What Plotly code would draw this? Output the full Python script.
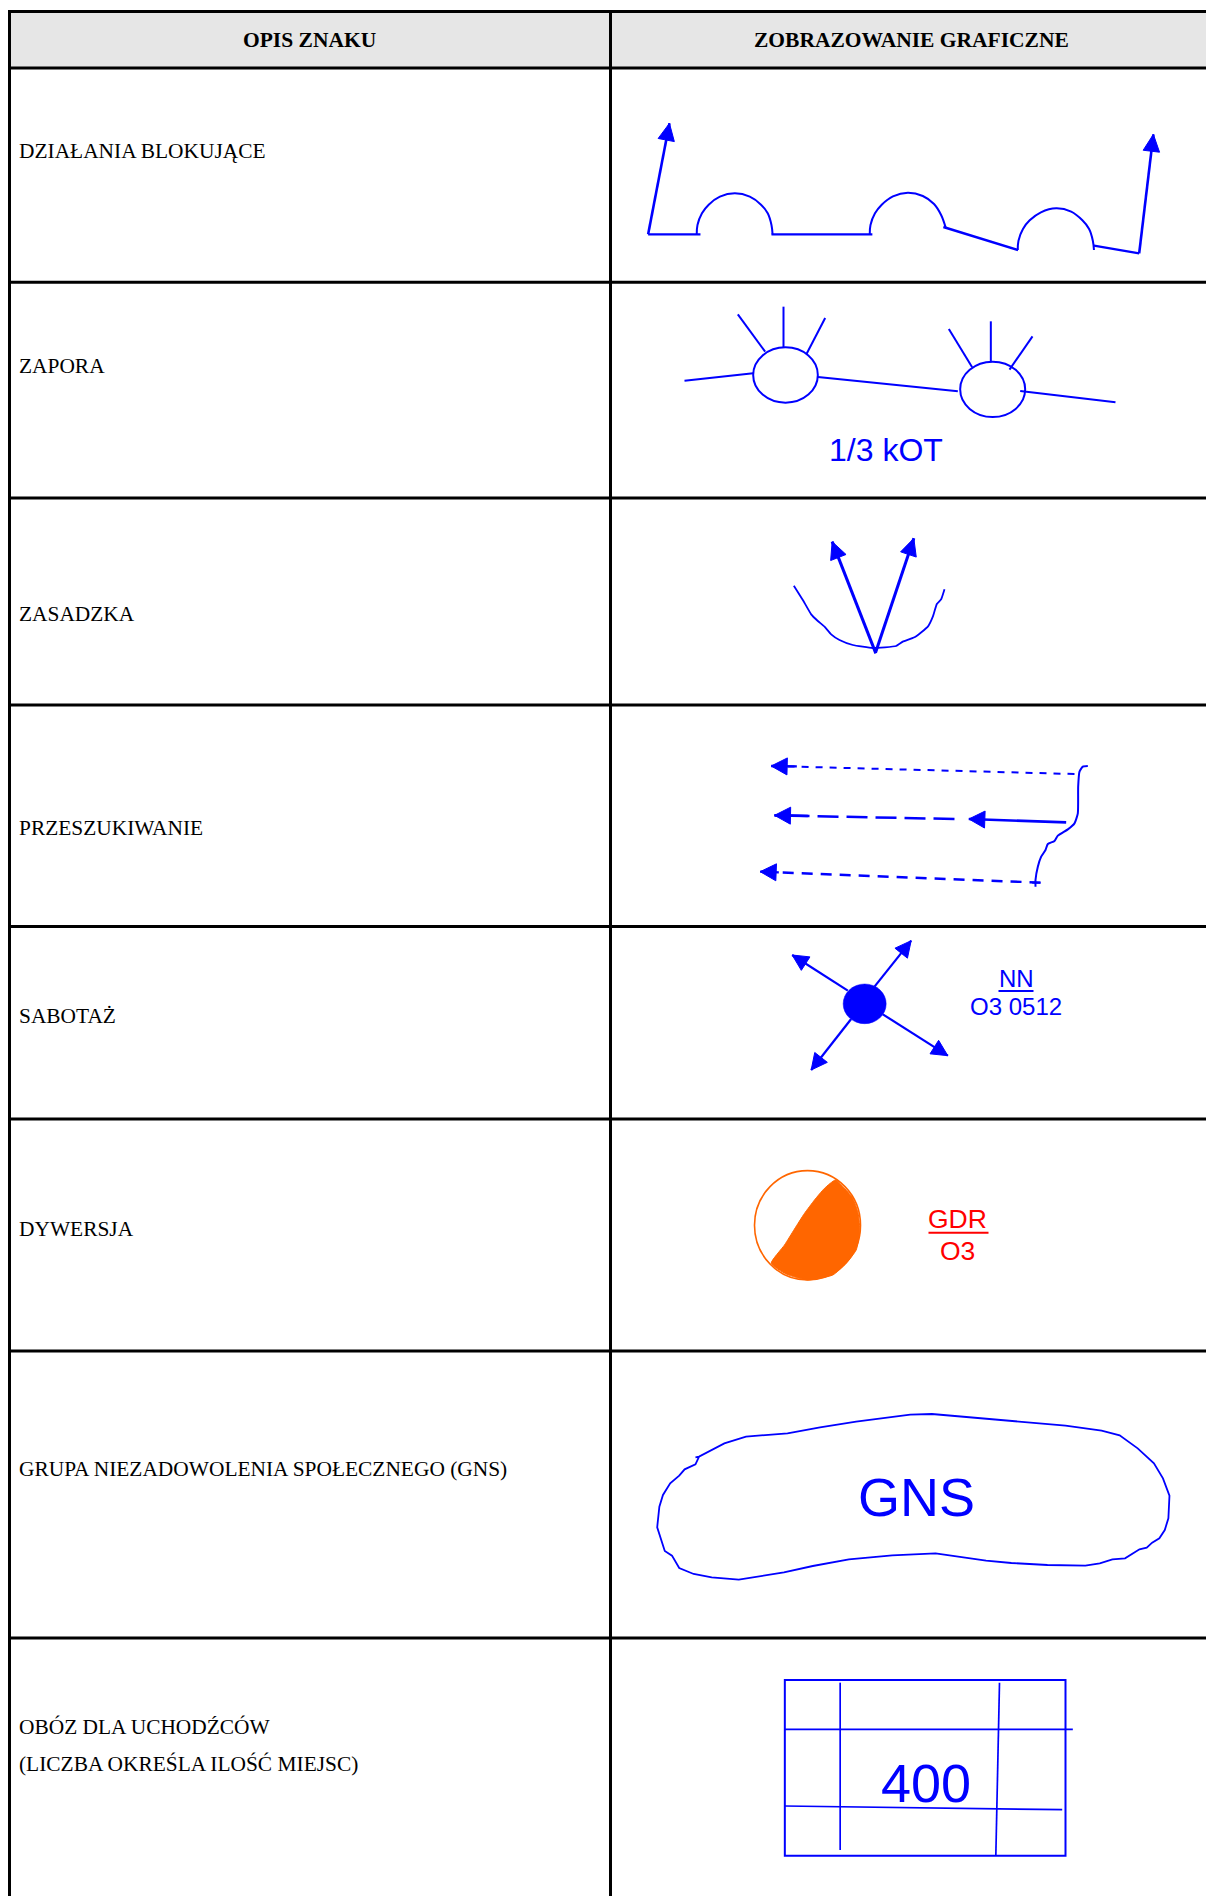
import math
import plotly.graph_objects as go

BLUE = "#0000ff"
ORANGE = "#ff6600"
RED = "#ff0000"
W, H = 1206, 1896

# ---------- table content ----------
HEADERS = ["OPIS ZNAKU", "ZOBRAZOWANIE GRAFICZNE"]
ROW_LABELS = ["DZIAŁANIA BLOKUJĄCE", "ZAPORA", "ZASADZKA", "PRZESZUKIWANIE", "SABOTAŻ", "DYWERSJA",
              "GRUPA NIEZADOWOLENIA SPOŁECZNEGO (GNS)", "OBÓZ DLA UCHODŹCÓW", "(LICZBA OKREŚLA ILOŚĆ MIEJSC)"]
ROW_LABEL_Y = [151, 366, 614, 828, 1016, 1229, 1469, 1726.5, 1764]
ROW_LINES_Y = [11.5, 68, 282.3, 498, 705, 926.5, 1119, 1351, 1638]
COL_LINES_X = [9.5, 610.5]


def z(pts, ox, oy, sx=3.0, sy=3.0):
    """Readings taken on a zoomed crop, brought back to page pixels."""
    return [(ox + a / sx, oy + b / sy) for a, b in pts]


# ---------- DZIAŁANIA BLOKUJĄCE ----------
B = dict(ox=619, oy=90, sx=2.676, sy=3)
block_lines = [[(78, 433), (218, 433)], [(408, 433), (678, 433)], [(868, 411), (1068, 480)], [(1271, 467), (1392, 490)]]
block_arcs = [
    [(208, 433), (210, 405), (222, 370), (240, 344), (270, 320), (310, 310), (350, 320), (380, 344), (398, 370), (408, 405), (411, 433)],
    [(671, 433), (673, 405), (685, 370), (703, 344), (733, 319), (773, 308), (813, 318), (843, 342), (862, 375), (874, 412)],
    [(1067, 480), (1069, 452), (1081, 417), (1099, 391), (1129, 367), (1170, 355), (1210, 365), (1240, 391), (1258, 417), (1268, 452), (1271, 480)],
]
block_arrows = [[(78, 433), (135, 100)], [(1392, 490), (1430, 133)]]

# ---------- ZAPORA ----------
Zp = dict(ox=649.5, oy=290)
zap_lines = [[(105, 272), (311, 250)], [(505, 261), (925, 304)], [(1112, 303), (1398, 337)],
             [(265, 73), (347, 185)], [(402, 50), (402, 172)], [(527, 84), (471, 192)],
             [(898, 117), (968, 232)], [(1024, 94), (1024, 215)], [(1149, 139), (1080, 239)]]
zap_ovals = [(311, 172, 505, 338), (932, 215, 1127, 381)]

# ---------- ZASADZKA ----------
Zs = dict(ox=759.5, oy=520)
zas_curve = [(103, 197), (130, 240), (155, 283), (175, 303), (195, 320), (215, 343), (240, 360), (280, 375), (340, 384),
             (410, 378), (430, 365), (465, 352), (505, 320), (520, 290), (532, 252), (545, 238), (555, 208)]
zas_arrows = [[(349, 400), (218, 65)], [(349, 395), (463, 55)]]

# ---------- PRZESZUKIWANIE ----------
P = dict(ox=739.5, oy=740)
prz_curve = [(1045, 78), (1030, 80), (1020, 95), (1016, 140), (1015, 220), (1005, 250), (985, 268), (955, 287), (945, 303),
             (925, 312), (918, 330), (905, 350), (895, 380), (888, 420), (888, 440)]
prz_top_dash = [(95, 78), (1005, 102)]
prz_mid_dash = [(105, 226), (645, 237)]
prz_mid_solid = [(980, 247), (688, 237)]
prz_low_dash = [(903, 428), (62, 395)]

# ---------- SABOTAŻ ----------
S = dict(ox=769.5, oy=920)
sab_dot = (221, 192, 350, 311)
sab_arrows = [[(235, 212), (68, 105)], [(315, 200), (425, 62)], [(245, 297), (125, 450)], [(340, 283), (535, 407)]]

# ---------- DYWERSJA ----------
D = dict(ox=729.5, oy=1150)
dyw_circle = (75, 62, 393, 390)
dyw_fill = [(318, 90), (285, 115), (255, 150), (225, 190), (195, 237), (165, 285), (125, 340), (170, 372), (235, 390),
            (310, 375), (350, 340), (380, 300), (391, 245), (386, 190), (370, 145), (345, 115), (318, 90)]

# ---------- GNS ----------
G = dict(ox=639.5, oy=1390, sx=2.77, sy=3)
gns_outline = [(155, 202), (165, 200), (235, 160), (295, 140), (410, 130), (500, 112), (600, 95), (695, 83), (750, 74),
               (810, 72), (900, 80), (1000, 90), (1075, 97), (1090, 97), (1180, 107), (1280, 122), (1330, 136), (1380, 175),
               (1425, 220), (1450, 265), (1468, 317), (1465, 385), (1455, 420), (1440, 445), (1420, 458), (1405, 473),
               (1385, 478), (1345, 505), (1310, 508), (1275, 520), (1235, 527), (1130, 525), (1030, 519), (960, 512),
               (820, 490), (700, 496), (580, 508), (480, 528), (400, 547), (275, 569), (200, 562), (150, 552), (110, 534),
               (90, 497), (70, 483), (49, 412), (55, 350), (65, 315), (85, 280), (110, 257), (125, 238), (155, 223), (165, 200)]

# ---------- OBÓZ ----------
O = dict(ox=759.5, oy=1660)
obo_rect = (76, 60, 918, 587)
obo_lines = [[(242, 68), (242, 570)], [(720, 68), (709, 587)], [(75, 208), (940, 208)], [(75, 438), (908, 449)]]

# ---------- symbol captions: text, x, y, size, colour ----------
CAPTIONS = [("1/3 kOT", 886.3, 450, 32, BLUE), ("NN", 1016, 978.5, 24, BLUE), ("O3 0512", 1016, 1006.5, 24, BLUE),
            ("GDR", 957.5, 1219, 26.5, RED), ("O3", 957.5, 1251, 26.5, RED), ("GNS", 916, 1497, 54, BLUE), ("400", 925.5, 1783, 54, BLUE)]
UNDERLINES = [((998.5, 991), (1033.5, 991), BLUE), ((928.5, 1232.7), (988.5, 1232.7), RED)]

fig = go.Figure()


def line(pts, width=2.0, color=BLUE, dash=None, shape="linear", smoothing=0.6):
    fig.add_trace(go.Scatter(x=[p[0] for p in pts], y=[p[1] for p in pts], mode="lines",
                             line=dict(color=color, width=width, dash=dash, shape=shape, smoothing=smoothing),
                             hoverinfo="skip", showlegend=False))


def head(start, tip, length=17, width=16.5, color=BLUE):
    dx, dy = tip[0] - start[0], tip[1] - start[1]
    n = math.hypot(dx, dy)
    ux, uy = dx / n, dy / n
    bx, by = tip[0] - ux * length, tip[1] - uy * length
    px, py = -uy * width / 2, ux * width / 2
    xs = [tip[0], bx + px, bx - px, tip[0]]
    ys = [tip[1], by + py, by - py, tip[1]]
    fig.add_trace(go.Scatter(x=xs, y=ys, mode="lines", fill="toself", fillcolor=color, line=dict(color=color, width=1),
                             hoverinfo="skip", showlegend=False))


def arrow(pts, width=2.4, dash=None, length=17, wid=16.5):
    line(pts, width, dash=dash)
    head(pts[0], pts[1], length, wid)


def oval(box, cfg, line_color=BLUE, fill=None, width=2.0, layer="above"):
    (x0, y0), (x1, y1) = z([box[:2], box[2:]], **cfg)
    fig.add_shape(type="circle", x0=x0, x1=x1, y0=y0, y1=y1, line=dict(color=line_color, width=width),
                  fillcolor=fill, layer=layer)


# table
shapes = [dict(type="rect", x0=COL_LINES_X[0], x1=W, y0=ROW_LINES_Y[0], y1=ROW_LINES_Y[1], fillcolor="#e6e6e6",
               line=dict(width=0), layer="below")]
for y in ROW_LINES_Y:
    shapes.append(dict(type="line", x0=8, x1=W, y0=y, y1=y, line=dict(color="#000000", width=3), layer="above"))
for x in COL_LINES_X:
    shapes.append(dict(type="line", x0=x, x1=x, y0=ROW_LINES_Y[0], y1=H, line=dict(color="#000000", width=3), layer="above"))
for s in shapes:
    fig.add_shape(**s)

# symbols
for seg in block_lines:
    line(z(seg, **B), 2.4)
for arc in block_arcs:
    line(z(arc, **B), 2.0, shape="spline", smoothing=1.0)
for a in block_arrows:
    arrow(z(a, **B), 2.6)

for seg in zap_lines:
    line(z(seg, **Zp), 2.0)
for box in zap_ovals:
    oval(box, Zp)

line(z(zas_curve, **Zs), 1.8, shape="spline", smoothing=0.4)
for a in zas_arrows:
    arrow(z(a, **Zs), 3.0)

line(z(prz_curve, **P), 2.0, shape="spline", smoothing=0.5)
line(z([(878, 428), (903, 428)], **P), 2.0)
arrow(z([prz_top_dash[1], prz_top_dash[0]], **P), 2.0, dash="7px,7px", length=16, wid=17)
line(z([prz_top_dash[0], (172, 79)], **P), 2.4)
arrow(z([prz_mid_dash[1], prz_mid_dash[0]], **P), 2.5, dash="21px,8px", length=16, wid=17)
line(z([prz_mid_dash[0], (205, 228)], **P), 2.6)
arrow(z(prz_mid_solid, **P), 2.6, length=16, wid=17)
arrow(z(prz_low_dash, **P), 2.4, dash="11px,8px", length=16, wid=17)
line(z([prz_low_dash[1], (118, 397)], **P), 2.4)

oval(sab_dot, S, fill=BLUE, width=0.5)
for a in sab_arrows:
    arrow(z(a, **S), 2.2, length=16, wid=16)

oval(dyw_circle, D, line_color=ORANGE, fill="#ffffff", width=1.6, layer="below")
fill_pts = z(dyw_fill, **D)
fig.add_trace(go.Scatter(x=[p[0] for p in fill_pts], y=[p[1] for p in fill_pts], mode="lines", fill="toself",
                         fillcolor=ORANGE, line=dict(color=ORANGE, width=1, shape="spline", smoothing=0.5),
                         hoverinfo="skip", showlegend=False))

line(z(gns_outline, **G), 1.8)

(x0, y0), (x1, y1) = z([obo_rect[:2], obo_rect[2:]], **O)
fig.add_shape(type="rect", x0=x0, x1=x1, y0=y0, y1=y1, line=dict(color=BLUE, width=2.0), layer="above")
for seg in obo_lines:
    line(z(seg, **O), 1.7)

for start, end, color in UNDERLINES:
    line([start, end], 2.0, color)

# texts
for text, x in zip(HEADERS, [309, 911.5]):
    fig.add_annotation(x=x, y=40, text=f"<b>{text}</b>", showarrow=False, xanchor="center", yanchor="middle",
                       font=dict(family="Liberation Serif", size=21.5, color="#000000"))
for text, y in zip(ROW_LABELS, ROW_LABEL_Y):
    fig.add_annotation(x=18, y=y, text=text, showarrow=False, xanchor="left", yanchor="middle", xshift=-1,
                       font=dict(family="Liberation Serif", size=21.4, color="#000000"))
for text, x, y, size, color in CAPTIONS:
    fig.add_annotation(x=x, y=y, text=text, showarrow=False, xanchor="center", yanchor="middle",
                       font=dict(family="Liberation Sans", size=size, color=color))

fig.update_layout(width=W, height=H, margin=dict(l=0, r=0, t=0, b=0, pad=0), paper_bgcolor="#ffffff", plot_bgcolor="#ffffff",
                  showlegend=False, hovermode=False,
                  xaxis=dict(range=[0, W], visible=False, fixedrange=True),
                  yaxis=dict(range=[H, 0], visible=False, fixedrange=True))
fig.write_html("out.html", config={"displayModeBar": False},
               post_script="document.body.style.margin='0';document.body.style.overflow='hidden';")
